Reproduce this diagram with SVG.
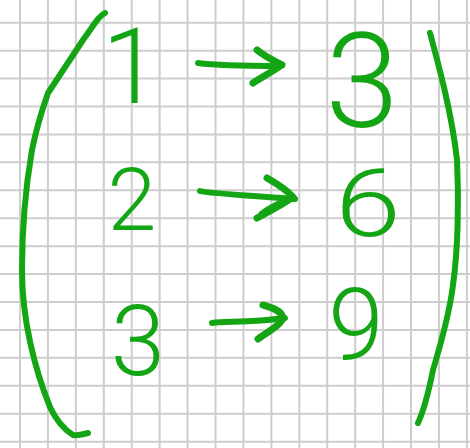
<svg xmlns="http://www.w3.org/2000/svg" width="470" height="448" viewBox="0 0 470 448">
<style>
.grid{stroke:#cdcdcd;stroke-width:2;fill:none}
.ink{stroke:#14a514;stroke-width:6;fill:none;stroke-linecap:round;stroke-linejoin:round}
.d{fill:#14a514;font-family:Roboto,"Liberation Sans",sans-serif;font-weight:300;text-anchor:middle}
</style>
<rect width="470" height="448" fill="#ffffff"/>
<g id="grid" class="grid">
<path d="M20,0V448M47.93,0V448M75.86,0V448M103.79,0V448M131.72,0V448M159.65,0V448M187.58,0V448M215.51,0V448M243.44,0V448M271.37,0V448M299.3,0V448M327.23,0V448M355.16,0V448M383.09,0V448M411.02,0V448M438.95,0V448M466.88,0V448"/>
<path d="M0,22.7H470M0,50.63H470M0,78.56H470M0,106.49H470M0,134.42H470M0,162.35H470M0,190.28H470M0,218.21H470M0,246.14H470M0,274.07H470M0,302H470M0,329.93H470M0,357.86H470M0,385.79H470M0,413.72H470M0,441.65H470"/>
</g>
<g id="left-bracket"><path class="ink" d="M105,13 C98,17 96,22 83,40 C75,52 58,78 48,93 C42,110 36,130 32,150 C26,185 22,230 22,270 C22,320 35,370 50,407 C55,418 62,428 73,435 C78,436 84,434 88,433"/></g>
<g id="right-bracket"><path class="ink" d="M430,33 C440,70 452,115 457,160 C459,200 458,250 453,285 C450,310 442,340 433,370 C428,395 424,410 418,423"/></g>
<g id="n1"><text class="d" x="131" y="103" font-size="105">1</text></g>
<g id="n2"><text class="d" x="132" y="230" font-size="88">2</text></g>
<g id="n3"><text class="d" x="138" y="375" font-size="98">3</text></g>
<g id="r3"><text class="d" x="362" y="127" font-size="132">3</text></g>
<g id="r6"><text class="d" transform="translate(368,236) scale(1.25,1)" font-size="95">6</text></g>
<g id="r9"><text class="d" x="356" y="359" font-size="100">9</text></g>
<g id="connectors">
<g id="a1"><path class="ink" d="M198,63 C205,64 220,66 280,66"/><path class="ink" style="stroke-width:7" d="M257,50 C262,54 272,60 282,65 C275,70 262,77 253,83"/></g>
<g id="a2"><path class="ink" d="M200,191 C206,193 240,195 295,199"/><path class="ink" style="stroke-width:7" d="M267,178 C272,181 285,188 293,197 C288,201 270,211 257,218 M262,214 C270,208 282,202 293,198"/></g>
<g id="a3"><path class="ink" d="M212,323 C225,321 250,323 285,318"/><path class="ink" style="stroke-width:7" d="M263,305 C270,307 282,310 283,318 C282,324 266,333 258,339"/></g>
</g>
</svg>
